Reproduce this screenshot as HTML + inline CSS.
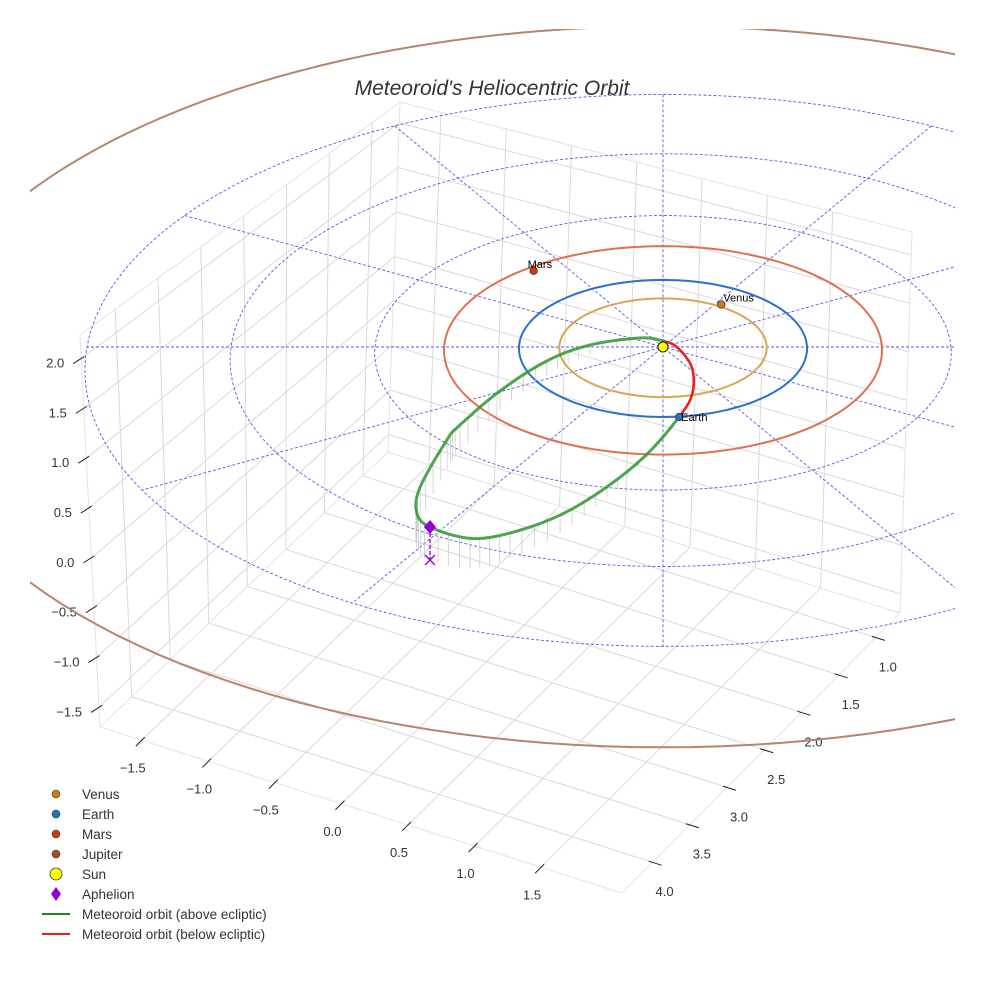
<!DOCTYPE html>
<html><head><meta charset="utf-8">
<style>
html,body{margin:0;padding:0;background:#fff;}
svg{display:block;font-family:"Liberation Sans",sans-serif;}
</style></head>
<body>
<svg id="chart" width="984" height="984" viewBox="0 0 984 984">
<defs><clipPath id="axclip"><rect x="30" y="29" width="925" height="955"/></clipPath></defs>
<text x="492" y="95" text-anchor="middle" font-size="21" font-style="italic" fill="#333">Meteoroid's Heliocentric Orbit</text>
<g id="box"></g>
<g id="ecl" clip-path="url(#axclip)"></g>
<g id="legend" font-size="13.5">
  <circle cx="56" cy="794" r="4" fill="#c87d0e" stroke="#333" stroke-width="0.6"/>
  <text x="82" y="799" fill="#333">Venus</text>
  <circle cx="56" cy="814" r="4" fill="#1f77b4" stroke="#333" stroke-width="0.6"/>
  <text x="82" y="819" fill="#333">Earth</text>
  <circle cx="56" cy="834" r="4" fill="#cc3a10" stroke="#333" stroke-width="0.6"/>
  <text x="82" y="839" fill="#333">Mars</text>
  <circle cx="56" cy="854" r="4" fill="#a0522d" stroke="#333" stroke-width="0.6"/>
  <text x="82" y="859" fill="#333">Jupiter</text>
  <circle cx="56" cy="874" r="6" fill="#ffff00" stroke="#333" stroke-width="0.8"/>
  <text x="82" y="879" fill="#333">Sun</text>
  <polygon points="56,887 61,894 56,901 51,894" fill="#9400d3"/>
  <text x="82" y="899" fill="#333">Aphelion</text>
  <line x1="42" y1="914" x2="70" y2="914" stroke="#1a8a1a" stroke-width="2"/>
  <text x="82" y="919" fill="#333">Meteoroid orbit (above ecliptic)</text>
  <line x1="42" y1="934" x2="70" y2="934" stroke="#e82020" stroke-width="2"/>
  <text x="82" y="939" fill="#333">Meteoroid orbit (below ecliptic)</text>
</g>
</svg>
<script>
// ---- data ----
const xTicks = [-1.5,-1.0,-0.5,0.0,0.5,1.0,1.5];
const yTicks = [1.0,1.5,2.0,2.5,3.0,3.5,4.0];
const zTicks = [-1.5,-1.0,-0.5,0.0,0.5,1.0,1.5,2.0];
const orbitNames = ['venus','earth','mars','jupiter'];
const orbitRadii = [0.72,1.0,1.52,5.2];
const orbitColors = ['#dba553','#2a6fd1','#e07050','#b8856a'];
const planetNames = ['Venus','Earth','Mars'];
const planetX = [0.41,0.11,-0.92];
const planetY = [0.63,-1.0,1.14];
const planetColors = ['#c87d0e','#1f77b4','#cc3a10'];
const gridRadii = [1,2,3,4];
const gridAngles = [0,30,60,90,120,150];
const metX = [0,-0.16,-0.506,-0.80,-1.11,-1.365,-1.445,-1.60,-1.61,-1.518,-1.254,-0.997,-0.676,-0.372,-0.107,0.109,0.2,0.2,0.10];
const metY = [0.088,0.104,-0.11,-0.41,-0.907,-1.49,-1.72,-2.41,-2.75,-2.917,-3.03,-2.895,-2.57,-2.09,-1.566,-1.0,-0.62,-0.23,0.02];
const metZ = [0,0.02,0.1,0.15,0.2,0.28,0.3,0.34,0.34,0.326,0.3,0.25,0.18,0.1,0.04,0,-0.04,-0.05,-0.02];
const aphelion = [-1.518,-2.917,0.326];

// ---- projection ----
const NS='http://www.w3.org/2000/svg';
const CX=663, CY=347, SX=144, SY=68.5, SZ=95, K=0.0212;
function P(x,y,z){const f=1/(1+K*y);return [CX+SX*x*f, CY-(SY*y+SZ*z)*f];}
function mk(tag,attrs,parent){const e=document.createElementNS(NS,tag);for(const k in attrs)e.setAttribute(k,attrs[k]);parent.appendChild(e);return e;}

// ---- box ----
const box=document.getElementById('box');
const L=[100,727],F=[622,893],R=[900,613],B=[388,452],TL=[80,335],TB=[400,102],TR=[912,232];
function lp(a,b,t){return [a[0]+(b[0]-a[0])*t,a[1]+(b[1]-a[1])*t];}
function tx(v){return 0.08+(v+1.5)/3*0.765;}
function ty(v){return 0.087+(v-1)/3*0.803;}
function tz(v){return 0.05+(v+1.5)/3.5*0.89;}
function seg(a,b,col,w,parent){return mk('line',{x1:a[0],y1:a[1],x2:b[0],y2:b[1],stroke:col,'stroke-width':w},parent);}
const G='#d9d9d9';
xTicks.forEach(v=>{
  let e=seg(lp(L,F,tx(v)),lp(B,R,tx(v)),G,1,box);
  
  
  e=seg(lp(B,R,tx(v)),lp(TB,TR,tx(v)),G,1,box);
  
  
});
yTicks.forEach(v=>{
  let e=seg(lp(R,F,ty(v)),lp(B,L,ty(v)),G,1,box);
  
  
  e=seg(lp(B,L,ty(v)),lp(TB,TL,ty(v)),G,1,box);
  
  
});
zTicks.forEach(v=>{
  let e=seg(lp(L,TL,tz(v)),lp(B,TB,tz(v)),G,1,box);
  
  
  e=seg(lp(B,TB,tz(v)),lp(R,TR,tz(v)),G,1,box);
  
  
});
[[L,F],[F,R],[L,TL],[B,TB],[R,TR],[TL,TB],[TB,TR],[L,B],[B,R]].forEach(p=>{
  const e=seg(p[0],p[1],'#e3e3e3',1,box);
  
  
});
function txt(x,y,s,anchor,parent){const e=mk('text',{x:x,y:y,'font-size':13,fill:'#333','text-anchor':anchor},parent);e.textContent=s;return e;}
xTicks.forEach(v=>{
  const p=lp(L,F,tx(v));
  let e=seg([p[0]+3,p[1]-3],[p[0]-6,p[1]+6],'#222',1,box);
  
  
  e=txt(p[0]-9,p[1]+32,v.toFixed(1).replace('-','\u2212'),'middle',box);
  
  
});
yTicks.forEach(v=>{
  const p=lp(R,F,ty(v));
  let e=seg([p[0]-4,p[1]-1],[p[0]+9,p[1]+3],'#222',1,box);
  
  
  e=txt(p[0]+12,p[1]+34,v.toFixed(1),'middle',box);
  
  
});
zTicks.forEach(v=>{
  const p=lp(L,TL,tz(v));
  let e=seg([p[0]+3,p[1]-2],[p[0]-8,p[1]+5],'#222',1,box);
  
  
  e=txt(p[0]-17,p[1]+9,v.toFixed(1).replace('-','\u2212'),'end',box);
  
  
});

// ---- ecliptic ----
const ecl=document.getElementById('ecl');
function ringPath(r){let d='';for(let i=0;i<=180;i++){const a=i/180*2*Math.PI;const p=P(r*Math.cos(a),r*Math.sin(a),0);d+=(i?'L':'M')+p[0].toFixed(1)+','+p[1].toFixed(1);}return d;}
const DASH='#5a5ae6';
gridRadii.forEach(r=>{
  const e=mk('path',{d:ringPath(r),fill:'none',stroke:DASH,'stroke-width':0.9,'stroke-dasharray':'3,2'},ecl);
  
  
});
const rMax=gridRadii[gridRadii.length-1];
gridAngles.forEach(a=>{
  const c=Math.cos(a*Math.PI/180),s=Math.sin(a*Math.PI/180);
  const p1=P(rMax*c,rMax*s,0),p2=P(-rMax*c,-rMax*s,0);
  const e=mk('line',{x1:p1[0],y1:p1[1],x2:p2[0],y2:p2[1],stroke:DASH,'stroke-width':0.9,'stroke-dasharray':'3,2'},ecl);
  
  
});
orbitRadii.forEach((r,i)=>{
  const e=mk('path',{d:ringPath(r),fill:'none',stroke:orbitColors[i],'stroke-width':2},ecl);
  
  
});
// meteoroid curve (Catmull-Rom closed)
const n=metX.length, samples=[];
function cr(p0,p1,p2,p3,t){const t2=t*t,t3=t2*t;return 0.5*((2*p1)+(-p0+p2)*t+(2*p0-5*p1+4*p2-p3)*t2+(-p0+3*p1-3*p2+p3)*t3);}
for(let i=0;i<n;i++){
  const i0=(i-1+n)%n,i2=(i+1)%n,i3=(i+2)%n;
  for(let s=0;s<16;s++){const t=s/16;
    samples.push([cr(metX[i0],metX[i],metX[i2],metX[i3],t),cr(metY[i0],metY[i],metY[i2],metY[i3],t),cr(metZ[i0],metZ[i],metZ[i2],metZ[i3],t)]);}
}
samples.push(samples[0]);
samples.forEach((q,i)=>{
  if(q[2]>0.01 && i%4===0){
    const a=P(q[0],q[1],q[2]),b=P(q[0],q[1],0);
    const e=mk('line',{x1:a[0],y1:a[1],x2:b[0],y2:b[1],stroke:'#c4c4c4','stroke-width':0.7},ecl);
    
    
  }
});
let segs=[],cur=null;
for(let i=0;i<samples.length;i++){
  const above=samples[i][2]>=0;
  if(!cur||cur.above!==above){if(cur)cur.pts.push(samples[i]);cur={above:above,pts:cur?[samples[i-1],samples[i]]:[samples[i]]};segs.push(cur);}
  else cur.pts.push(samples[i]);
}
segs.forEach(sg=>{
  const d=sg.pts.map((q,i)=>{const p=P(q[0],q[1],q[2]);return (i?'L':'M')+p[0].toFixed(1)+','+p[1].toFixed(1);}).join('');
  const e=mk('path',{d:d,fill:'none',stroke:sg.above?'#2e962e':'#e82020','stroke-width':sg.above?3:2.6,'stroke-opacity':sg.above?0.85:1,'stroke-linecap':'round'},ecl);
  
  
});
// aphelion
{
  const a=P(aphelion[0],aphelion[1],aphelion[2]),b=P(aphelion[0],aphelion[1],0);
  let e=mk('line',{x1:a[0],y1:a[1],x2:b[0],y2:b[1],stroke:'#9400d3','stroke-width':1.3,'stroke-dasharray':'4,2'},ecl);
  
  
  e=mk('path',{d:`M${b[0]-5},${b[1]-5}L${b[0]+5},${b[1]+5}M${b[0]-5},${b[1]+5}L${b[0]+5},${b[1]-5}`,stroke:'#9400d3','stroke-width':1.3,fill:'none'},ecl);
  
  
  e=mk('polygon',{points:`${a[0]},${a[1]-7} ${a[0]+6},${a[1]} ${a[0]},${a[1]+7} ${a[0]-6},${a[1]}`,fill:'#9400d3'},ecl);
  
  
}
// planets
planetNames.forEach((nm,i)=>{
  const p=P(planetX[i],planetY[i],0);
  let e=mk('circle',{cx:p[0],cy:p[1],r:3.8,fill:planetColors[i],stroke:'#222','stroke-width':0.6},ecl);
  
  
  e=mk('text',{x:p[0]+(nm==='Mars'?-6:2),y:p[1]+(nm==='Earth'?4:-3),'font-size':11,fill:'#000'},ecl);
  e.textContent=nm;
  
  
});
{
  const s=P(0,0,0);
  let e=mk('circle',{cx:s[0],cy:s[1],r:5,fill:'#ffff00',stroke:'#222','stroke-width':1},ecl);
  
  
}
</script>
</body></html>
